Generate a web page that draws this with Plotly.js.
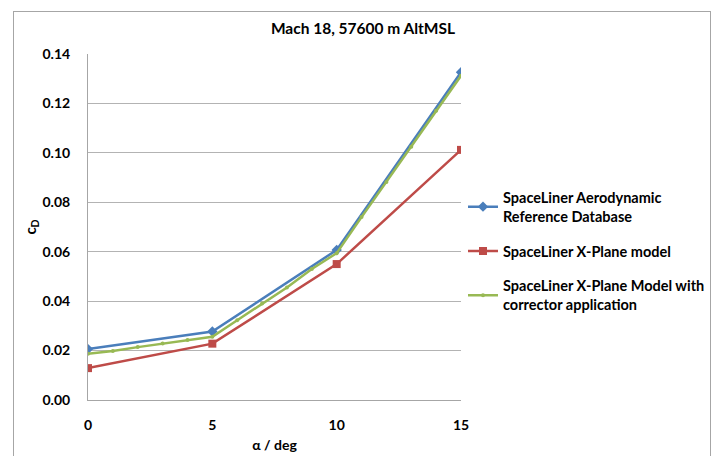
<!DOCTYPE html>
<html>
<head>
<meta charset="utf-8">
<script src="https://cdn.plot.ly/plotly-3.0.1.min.js"></script>
<style>
html,body{margin:0;padding:0;background:#fff;}
#wrap{position:relative;width:715px;height:456px;}
#chart{position:absolute;left:0;top:0;width:715px;height:456px;}
#frame{position:absolute;left:13px;top:11px;width:696px;height:460px;border:1px solid #a6a6a6;pointer-events:none;}
</style>
</head>
<body>
<div id="wrap"><div id="chart"></div><div id="frame"></div></div>
<script>
// Data
const alphaCoarse = [0, 5, 10, 15];
const cdReference = [0.0206, 0.0277, 0.0607, 0.1326];
const cdXPlane = [0.0129, 0.0228, 0.0550, 0.1012];
const alphaFine = [0, 1, 2, 3, 4, 5, 6, 7, 8, 9, 10, 11, 12, 13, 14, 15];
const cdCorrected = [0.0187, 0.0198, 0.0214, 0.0229, 0.0243, 0.0256, 0.0323, 0.0390, 0.0455, 0.0530, 0.0594, 0.0740, 0.0882, 0.1025, 0.1170, 0.1312];
const seriesNames = [
  'SpaceLiner Aerodynamic<br>Reference Database',
  'SpaceLiner X-Plane model',
  'SpaceLiner X-Plane Model with<br>corrector application'
];
const xTicks = [0, 5, 10, 15];
const yTicks = [0, 0.02, 0.04, 0.06, 0.08, 0.10, 0.12, 0.14];

const FONT = 'Lato, "Open Sans", sans-serif';
const traces = [
  {x: alphaCoarse, y: cdReference, name: seriesNames[0], legendgroup: 'a', mode: 'lines+markers',
   line: {color: '#4A7EBB', width: 2.5}, marker: {symbol: 'diamond', size: 8, color: '#4A7EBB'}},
  {x: alphaCoarse, y: cdXPlane, name: seriesNames[1], legendgroup: 'b', mode: 'lines+markers',
   line: {color: '#BE4B48', width: 2.5}, marker: {symbol: 'square', size: 8, color: '#BE4B48'}},
  {x: alphaFine, y: cdCorrected, name: seriesNames[2], legendgroup: 'c', mode: 'lines+markers',
   line: {color: '#98B954', width: 2.5}, marker: {symbol: 'circle', size: 4, color: '#98B954'}}
];

const layout = {
  width: 715, height: 456,
  margin: {l: 88, r: 5, t: 54, b: 56},
  paper_bgcolor: 'rgba(0,0,0,0)', plot_bgcolor: 'rgba(0,0,0,0)',
  font: {family: FONT, size: 14, color: '#000'},
  title: {text: '<b>Mach 18, 57600 m AltMSL</b>', font: {family: FONT, size: 15.5, color: '#000'},
          x: 0.4421, xref: 'paper', xanchor: 'center', y: 0.938, yanchor: 'middle'},
  xaxis: {
    domain: [0, 0.5997],
    range: [0, 15], tickvals: xTicks, ticktext: xTicks.map(v => '<b>' + v + '</b>'),
    showgrid: false, zeroline: false, showline: true, linecolor: '#a6a6a6', linewidth: 1,
    ticks: '', ticklabelstandoff: 12, tickfont: {family: FONT, size: 14},
    title: {text: '<b>α / deg</b>', font: {family: FONT, size: 14}, standoff: 8}
  },
  yaxis: {
    range: [0, 0.14], tickvals: yTicks, ticktext: yTicks.map(v => '<b>' + v.toFixed(2) + '</b>'),
    showgrid: true, gridcolor: '#b3b3b3', gridwidth: 1, zeroline: false,
    showline: true, linecolor: '#a6a6a6', linewidth: 1,
    ticks: '', ticklabelstandoff: 14, tickfont: {family: FONT, size: 14},
    title: {text: '<b>c<sub>D</sub></b>', font: {family: FONT, size: 15}, standoff: 2}
  },
  legend: {x: 0.6029, xanchor: 'left', y: 0.4297, yanchor: 'middle', bgcolor: 'rgba(0,0,0,0)',
           font: {family: FONT, size: 14.5, color: '#000'}, tracegroupgap: 13, itemwidth: 30},
  showlegend: true
};
// bold legend text
traces.forEach(t => { t.name = '<b>' + t.name + '</b>'; });

Plotly.newPlot('chart', traces, layout, {staticPlot: true, displayModeBar: false});
</script>
</body>
</html>
